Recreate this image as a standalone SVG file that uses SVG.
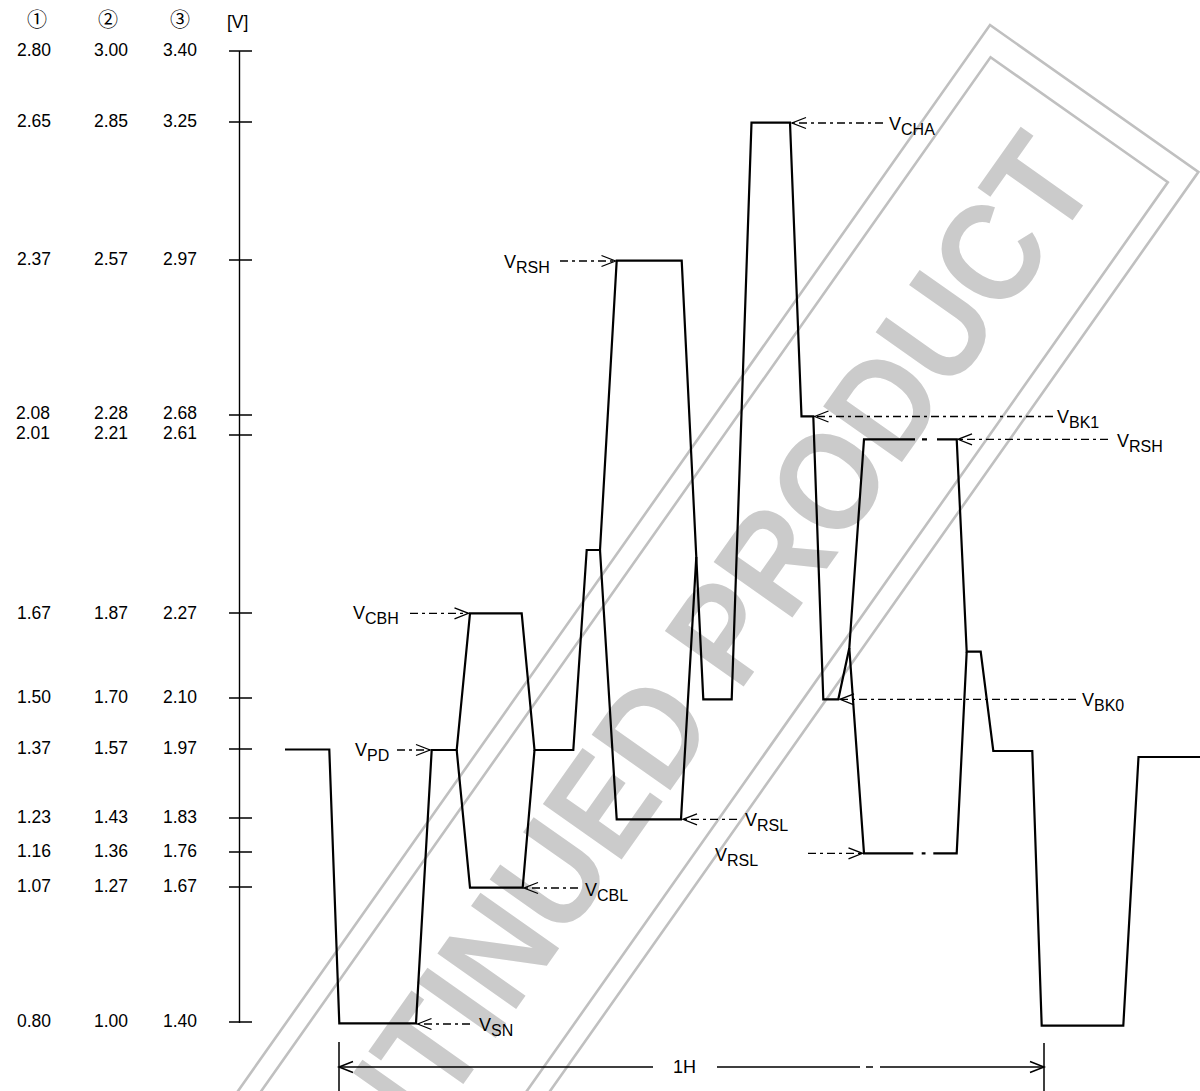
<svg xmlns="http://www.w3.org/2000/svg" width="1200" height="1091" viewBox="0 0 1200 1091">
<defs>
<style>
.w{fill:none;stroke:#000;stroke-width:2.2;stroke-linejoin:miter;stroke-linecap:butt}
.ld{fill:none;stroke:#000;stroke-width:1.3;stroke-dasharray:8 4 3 4;marker-end:url(#ah)}
.ax{fill:none;stroke:#000;stroke-width:1.4}
.dim{fill:none;stroke:#000;stroke-width:1.5}
.num{font-family:"Liberation Sans",Arial,"DejaVu Sans",sans-serif;font-size:17.5px;fill:#000}
.hd{font-family:"Noto Sans CJK JP","Noto Sans CJK SC","DejaVu Sans",sans-serif;font-size:20px;fill:#000}
.lbl{font-family:"Liberation Sans",Arial,sans-serif;font-size:18px;fill:#000}
.sub{font-size:16px}
.wmr{fill:none;stroke:#c0c0c0;stroke-width:2.6}
.wmt{font-family:"Liberation Sans",Arial,sans-serif;font-weight:bold;font-size:140px;fill:#cbcbcb}
</style>
<marker id="ah" viewBox="-16 -8 18 16" refX="0" refY="0" markerWidth="18" markerHeight="16" markerUnits="userSpaceOnUse" orient="auto">
<path d="M-14,-5.5 L0,0 L-14,5.5" fill="none" stroke="#000" stroke-width="1.3" stroke-dasharray="none"/>
</marker>
</defs>
<rect width="1200" height="1091" fill="#fff"/>

<g id="watermark" transform="translate(990,25) rotate(-54.8)">
<rect class="wmr" x="-2200" y="0" width="2200" height="255"/>
<rect class="wmr" x="-2174" y="19" width="2148" height="217"/>
<text class="wmt" x="-1692" y="180" textLength="1628" lengthAdjust="spacingAndGlyphs">DISCONTINUED PRODUCT</text>
</g>

<g id="header">
<text class="hd" x="37" y="27" text-anchor="middle">①</text>
<text class="hd" x="108" y="27" text-anchor="middle">②</text>
<text class="hd" x="180" y="27" text-anchor="middle">③</text>
<text class="num" x="227" y="28">[V]</text>
</g>

<g id="axis">
<path class="ax" d="M239.5,51 V1023"/>
<path class="ax" d="M229,51 H252 M229,122 H252 M229,260 H252 M229,415 H252 M229,435 H252 M229,613 H252 M229,698 H252 M229,749 H252 M229,818 H252 M229,852 H252 M229,887 H252 M229,1022 H252"/>
</g>

<g id="scale-labels">
<text class="num" x="17" y="56">2.80</text><text class="num" x="94" y="56">3.00</text><text class="num" x="163" y="56">3.40</text>
<text class="num" x="17" y="127">2.65</text><text class="num" x="94" y="127">2.85</text><text class="num" x="163" y="127">3.25</text>
<text class="num" x="17" y="265">2.37</text><text class="num" x="94" y="265">2.57</text><text class="num" x="163" y="265">2.97</text>
<text class="num" x="16" y="419">2.08</text><text class="num" x="94" y="419">2.28</text><text class="num" x="163" y="419">2.68</text>
<text class="num" x="16" y="439">2.01</text><text class="num" x="94" y="439">2.21</text><text class="num" x="163" y="439">2.61</text>
<text class="num" x="17" y="619">1.67</text><text class="num" x="94" y="619">1.87</text><text class="num" x="163" y="619">2.27</text>
<text class="num" x="17" y="703">1.50</text><text class="num" x="94" y="703">1.70</text><text class="num" x="163" y="703">2.10</text>
<text class="num" x="17" y="754">1.37</text><text class="num" x="94" y="754">1.57</text><text class="num" x="163" y="754">1.97</text>
<text class="num" x="17" y="823">1.23</text><text class="num" x="94" y="823">1.43</text><text class="num" x="163" y="823">1.83</text>
<text class="num" x="17" y="857">1.16</text><text class="num" x="94" y="857">1.36</text><text class="num" x="163" y="857">1.76</text>
<text class="num" x="17" y="892">1.07</text><text class="num" x="94" y="892">1.27</text><text class="num" x="163" y="892">1.67</text>
<text class="num" x="17" y="1027">0.80</text><text class="num" x="94" y="1027">1.00</text><text class="num" x="163" y="1027">1.40</text>
</g>

<g id="waveform">
<path class="w" d="M285,749.5 L329.3,749.5 L339.3,1023.3 L416,1023.3 L431.7,750 L456.7,750 L470,613.3 L521.7,613.3 L534.5,750 L573.3,750 L586.7,550 L600,550 L616.7,260.7 L681.7,260.7 L696.3,557 L703.3,699.3 L731.7,699.3 L751.5,122.7 L790,122.7 L801.5,416.3 L813.3,416.3 L823.3,699.3 L838.3,699.3 L849.3,648 L864,439.3 L915,439.3 M922,439.3 L927,439.3 M937,439.3 L956.7,439.3 L966.7,651.7 L980.7,651.7 L993.3,751 L1032.3,751 L1041.7,1025.7 L1123.3,1025.7 L1138.5,757 L1200,757"/>
<path class="w" d="M456.7,750 L470,887.7 L522.7,887.7 L534.5,750"/>
<path class="w" d="M600,550 L616.7,819.3 L681,819.3 L696.3,557"/>
<path class="w" d="M849.3,648 L864,853.3 L913.3,853.3 M921.7,853.3 L925.5,853.3 M933.3,853.3 L956.7,853.3 L966.7,651.7"/>
</g>

<g id="connectors">
<path class="ld" d="M883,123 H792"/>
<path class="ld" d="M560,261 H615.5"/>
<path class="ld" d="M1053,416.5 H814.5"/>
<path class="ld" d="M1108,439.3 H958"/>
<path class="ld" d="M410,613.3 H468.5"/>
<path class="ld" d="M1076,699.3 H840"/>
<path class="ld" d="M397,750 H430"/>
<path class="ld" d="M737,819.3 H683"/>
<path class="ld" d="M808,853.3 H862.5"/>
<path class="ld" d="M578,888 H524"/>
<path class="ld" d="M470,1024 H417.5"/>
<g id="dim-1H">
<path class="dim" d="M339,1042 V1091 M1044,1043 V1091"/>
<path class="dim" d="M653,1067 H339 M717,1067 H860 M866,1067 H873 M880,1067 H1044"/>
<path class="dim" d="M353,1061.5 L339,1067 L353,1072.5 M1030,1061.5 L1044,1067 L1030,1072.5"/>
</g>
</g>

<g id="label-VCHA"><text class="lbl" x="889" y="130">V<tspan class="sub" dy="5">CHA</tspan></text></g>
<g id="label-VRSH-1"><text class="lbl" x="504" y="268">V<tspan class="sub" dy="5">RSH</tspan></text></g>
<g id="label-VBK1"><text class="lbl" x="1057" y="423">V<tspan class="sub" dy="5">BK1</tspan></text></g>
<g id="label-VRSH-2"><text class="lbl" x="1117" y="447">V<tspan class="sub" dy="5">RSH</tspan></text></g>
<g id="label-VCBH"><text class="lbl" x="353" y="619">V<tspan class="sub" dy="5">CBH</tspan></text></g>
<g id="label-VBK0"><text class="lbl" x="1082" y="706">V<tspan class="sub" dy="5">BK0</tspan></text></g>
<g id="label-VPD"><text class="lbl" x="355" y="756">V<tspan class="sub" dy="5">PD</tspan></text></g>
<g id="label-VRSL-1"><text class="lbl" x="745" y="826">V<tspan class="sub" dy="5">RSL</tspan></text></g>
<g id="label-VRSL-2"><text class="lbl" x="715" y="861">V<tspan class="sub" dy="5">RSL</tspan></text></g>
<g id="label-VCBL"><text class="lbl" x="585" y="896">V<tspan class="sub" dy="5">CBL</tspan></text></g>
<g id="label-VSN"><text class="lbl" x="479" y="1031">V<tspan class="sub" dy="5">SN</tspan></text></g>
<g id="label-1H"><text class="lbl" x="673" y="1073">1H</text></g>
</svg>
